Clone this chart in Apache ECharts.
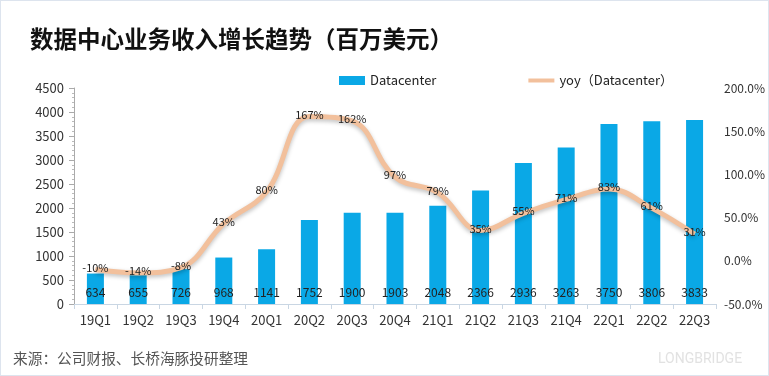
<!DOCTYPE html>
<html>
<head>
<meta charset="utf-8">
<script src="https://cdn.jsdelivr.net/npm/echarts@6/dist/echarts.min.js"></script>
<style>
html,body{margin:0;padding:0;background:#fff;}
#chart{width:767px;height:374px;border:1px solid #dde4ee;}
</style>
</head>
<body>
<div id="chart"></div>
<script>
// 季度
const quarters = ['19Q1','19Q2','19Q3','19Q4','20Q1','20Q2','20Q3','20Q4','21Q1','21Q2','21Q3','21Q4','22Q1','22Q2','22Q3'];
// 数据中心收入（百万美元）
const revenue = [634,655,726,968,1141,1752,1900,1903,2048,2366,2936,3263,3750,3806,3833];
// 同比增长 %
const yoy = [-10,-14,-8,43,80,167,162,97,79,35,55,71,83,61,31];

const myChart = echarts.init(document.getElementById('chart'));
const font = 'Microsoft YaHei, "Noto Sans CJK SC", sans-serif';
const lineColor = '#F2C09C';

const option = {
	animation: false,
	textStyle: { fontFamily: font },
	title: [{
		text: '数据中心业务收入增长趋势（百万美元）',
		left: 24, top: 21,
		textStyle: { fontSize: 23.5, fontWeight: 'bold', color: '#111', fontFamily: font }
	}, {
		text: '来源：公司财报、长桥海豚投研整理',
		left: 7, top: 345,
		textStyle: { fontSize: 14.7, fontWeight: 'normal', color: '#555', fontFamily: font }
	}, {
		text: 'LONGBRIDGE',
		left: 652, top: 346,
		textStyle: { fontSize: 14, fontWeight: 'normal', color: '#e2e2e2', fontFamily: 'Roboto' }
	}],
	legend: {
		top: 68,
		left: 333,
		itemGap: 92,
		itemWidth: 26,
		itemHeight: 9,
		textStyle: { fontSize: 13, color: '#222' },
		data: [
			{ name: 'Datacenter', icon: 'rect' },
			{ name: 'yoy（Datacenter）', icon: 'path://M0,0 L26,0 L26,4 L0,4 Z', itemStyle: { color: lineColor } }
		]
	},
	grid: { left: 73, right: 52, top: 87, bottom: 71 },
	xAxis: {
		type: 'category',
		data: quarters,
		axisLine: { lineStyle: { color: '#c9d6e3' } },
		axisTick: { show: true, lineStyle: { color: '#c9d6e3' } },
		axisLabel: { fontSize: 13, color: '#333', margin: 10 }
	},
	yAxis: [{
		type: 'value',
		min: 0, max: 4500, interval: 500,
		axisLine: { show: true, lineStyle: { color: '#aaa' } },
		axisTick: { show: true, lineStyle: { color: '#aaa' } },
		minorTick: { show: true, splitNumber: 5, length: 2, lineStyle: { color: '#bbb' } },
		splitLine: { show: false },
		axisLabel: { fontSize: 13, color: '#333', margin: 10, formatter: v => String(v) }
	}, {
		type: 'value',
		min: -50, max: 200, interval: 50,
		axisLine: { show: false },
		axisTick: { show: false },
		splitLine: { show: false },
		axisLabel: { fontSize: 12, color: '#333', margin: 8, formatter: v => v.toFixed(1) + '%' }
	}],
	series: [{
		name: 'Datacenter',
		type: 'bar',
		data: revenue,
		barWidth: 17,
		itemStyle: { color: '#0AA8E6' },
		label: {
			show: true, position: 'insideBottom', distance: 6,
			fontSize: 12, color: '#222'
		},
		z: 2
	}, {
		name: 'yoy（Datacenter）',
		type: 'line',
		yAxisIndex: 1,
		data: yoy,
		smooth: 0.4,
		symbol: 'circle',
		symbolSize: 1,
		showSymbol: true,
		lineStyle: {
			width: 5, color: lineColor,
			shadowColor: 'rgba(0,0,0,0.25)', shadowBlur: 4, shadowOffsetY: 2
		},
		itemStyle: { color: lineColor },
		label: {
			show: true, position: 'top', distance: -4, fontSize: 11, color: '#222',
			formatter: p => p.value + '%'
		},
		z: 3
	}]
};

myChart.setOption(option);
</script>
</body>
</html>
